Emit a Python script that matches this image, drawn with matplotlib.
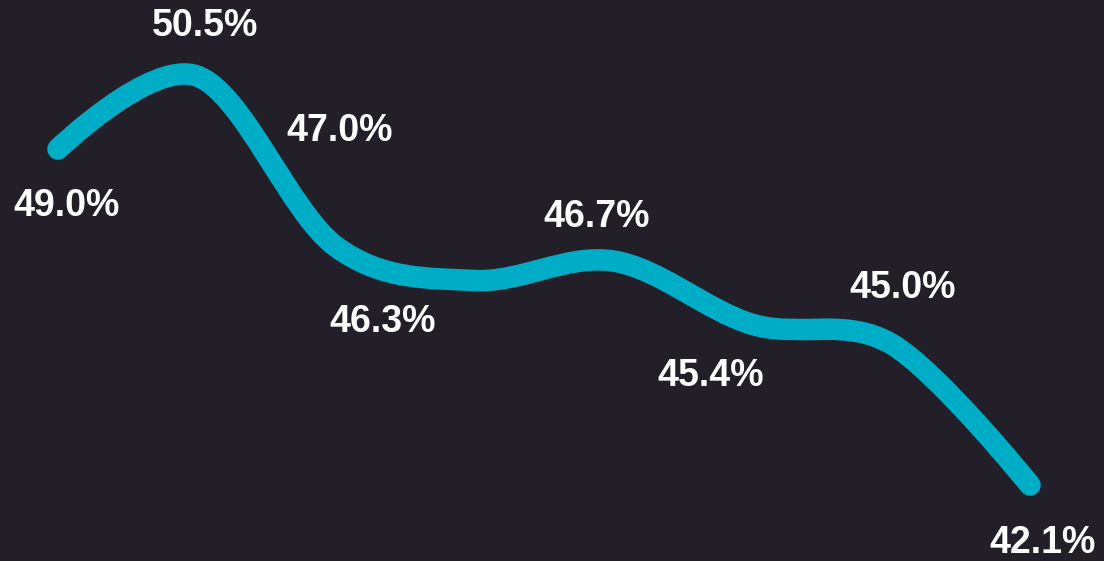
import numpy as np
import matplotlib
matplotlib.use("Agg")
import matplotlib.pyplot as plt
from matplotlib.path import Path
from matplotlib.patches import PathPatch

values = [49.0, 50.5, 47.0, 46.3, 46.7, 45.4, 45.0, 42.1]
labels = ["49.0%", "50.5%", "47.0%", "46.3%", "46.7%", "45.4%", "45.0%", "42.1%"]
# label offsets in points (dx, dy) relative to each data point
label_offsets = [(6, -41), (6, 36), (3, 83), (-66, -30), (-12, 32), (-30, -37), (8, 40), (9, -42)]

BG = "#231F29"
LINE = "#00ADC6"

fig = plt.figure(figsize=(11.04, 5.61), dpi=100, facecolor=BG)
ax = fig.add_axes([0, 0, 1, 1])
ax.set_facecolor(BG)
ax.set_xlim(-0.4177, 7.533)
ax.set_ylim(40.54, 52.06)
ax.axis("off")

x = np.arange(len(values), dtype=float)
pts = ax.transData.transform(np.column_stack([x, values]))

# Catmull-Rom as cubic Beziers, computed in display space
alpha = 0.0
n = len(pts)
verts = [pts[0]]
codes = [Path.MOVETO]
for i in range(n - 1):
    p0 = pts[i - 1] if i > 0 else None
    p1 = pts[i]
    p2 = pts[i + 1]
    p3 = pts[i + 2] if i + 2 < n else None
    l12 = np.linalg.norm(p2 - p1)
    l12_a, l12_2a = l12 ** alpha, l12 ** (2 * alpha)
    c1 = p1.copy()
    c2 = p2.copy()
    if p0 is not None:
        l01 = np.linalg.norm(p1 - p0)
        l01_a, l01_2a = l01 ** alpha, l01 ** (2 * alpha)
        a = 2 * l01_2a + 3 * l01_a * l12_a + l12_2a
        m = 3 * l01_a * (l01_a + l12_a)
        c1 = (p1 * a - p0 * l12_2a + p2 * l01_2a) / m
    if p3 is not None:
        l23 = np.linalg.norm(p3 - p2)
        l23_a, l23_2a = l23 ** alpha, l23 ** (2 * alpha)
        b = 2 * l23_2a + 3 * l23_a * l12_a + l12_2a
        m = 3 * l23_a * (l23_a + l12_a)
        c2 = (p2 * b + p1 * l23_2a - p3 * l12_2a) / m
    verts += [c1, c2, p2]
    codes += [Path.CURVE4] * 3

verts_data = ax.transData.inverted().transform(np.array(verts))
path = Path(verts_data, codes)
patch = PathPatch(path, facecolor="none", edgecolor=LINE, lw=15.5,
                  capstyle="round", joinstyle="round")
ax.add_patch(patch)

for xi, v, lab, (dx, dy) in zip(x, values, labels, label_offsets):
    ax.annotate(lab, (xi, v), xytext=(dx, dy), textcoords="offset points",
                ha="center", va="center", color="white", fontsize=27,
                fontweight="bold", family=["Liberation Sans", "DejaVu Sans"])

fig.savefig("out.png", dpi=100, facecolor=BG)
